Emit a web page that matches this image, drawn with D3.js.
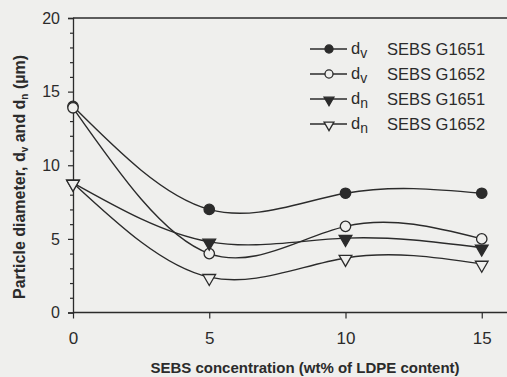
<!DOCTYPE html>
<html>
<head>
<meta charset="utf-8">
<script src="https://cdn.jsdelivr.net/npm/d3@7"></script>
<style>
  html, body { margin: 0; padding: 0; background: #efefed; }
  svg { display: block; font-family: "Liberation Sans", Arial, sans-serif; }
</style>
</head>
<body>
<div id="chart"></div>
<script>
// ── Data ────────────────────────────────────────────────────────────────
const concentrations = [0, 5, 10, 15];
const dvG1651 = [14.0, 7.0, 8.1, 8.1];
const dvG1652 = [13.9, 4.0, 5.85, 5.0];
const dnG1651 = [8.8, 4.8, 5.05, 4.4];
const dnG1652 = [8.8, 2.4, 3.7, 3.3];

const seriesNames = ["G1651", "G1652", "G1651", "G1652"];
const seriesSubs = ["v", "v", "n", "n"];
const seriesValues = [dvG1651, dvG1652, dnG1651, dnG1652];
const seriesSymbols = ["circle", "circle", "triangle", "triangle"];
const seriesFilled = [true, false, true, false];

const xTicks = [0, 5, 10, 15];
const yTicks = [0, 5, 10, 15, 20];
const yMinorTicks = d3.range(0, 21, 1);

const W = 507, H = 377;
const INK = "#2b2b2b";
const BG = "#efefed";
const FONT = "Liberation Sans, Arial, sans-serif";

const svg = d3.select("#chart").append("svg").attr("width", W).attr("height", H);

const x = d3.scaleLinear().domain([0, 16]).range([73, 509]);
const y = d3.scaleLinear().domain([0, 20]).range([312.5, 18]);

// ── Frame / axes ─────────────────────────────────────────────────────────
svg.append("line")
  .attr("x1", x(0)).attr("x2", W).attr("y1", y(20)).attr("y2", y(20))
  .attr("stroke", INK).attr("stroke-width", 1.3);

const yAxis = d3.axisLeft(y).tickValues(yTicks).tickSize(5).tickPadding(8).tickFormat(d3.format("d"));
const gy = svg.append("g").attr("transform", `translate(${x(0)},0)`).call(yAxis);
gy.select(".domain").attr("stroke", INK).attr("stroke-width", 1.3);
gy.selectAll(".tick line").attr("stroke", INK).attr("stroke-width", 1.2);
gy.selectAll(".tick text").attr("fill", INK).attr("font-size", 16).attr("font-family", FONT);

const yMinor = d3.axisLeft(y).tickValues(yMinorTicks.filter((v) => v % 5 !== 0)).tickSize(3).tickFormat("");
const gym = svg.append("g").attr("transform", `translate(${x(0)},0)`).call(yMinor);
gym.select(".domain").remove();
gym.selectAll(".tick line").attr("stroke", INK).attr("stroke-width", 1.2);

const xAxis = d3.axisBottom(x).tickValues(xTicks).tickSize(6).tickPadding(13).tickFormat(d3.format("d"));
const gx = svg.append("g").attr("transform", `translate(0,${y(0)})`).call(xAxis);
gx.select(".domain").attr("d", `M${x(0)},0H${W}`).attr("stroke", INK).attr("stroke-width", 1.3);
gx.selectAll(".tick line").attr("stroke", INK).attr("stroke-width", 1.2);
gx.selectAll(".tick text").attr("fill", INK).attr("font-size", 17).attr("font-family", FONT);

// ── Axis titles ──────────────────────────────────────────────────────────
svg.append("text")
  .attr("x", 305).attr("y", 373)
  .attr("text-anchor", "middle")
  .attr("font-size", 15).attr("font-weight", "bold").attr("fill", INK)
  .text("SEBS concentration (wt% of LDPE content)");

const yTitle = svg.append("text")
  .attr("transform", "translate(25,177) rotate(-90)")
  .attr("text-anchor", "middle")
  .attr("font-size", 16).attr("font-weight", "bold").attr("fill", INK);
yTitle.append("tspan").text("Particle diameter, d");
yTitle.append("tspan").attr("font-size", 10).attr("dy", 3).text("v");
yTitle.append("tspan").attr("dy", -3).text(" and d");
yTitle.append("tspan").attr("font-size", 10).attr("dy", 3).text("n");
yTitle.append("tspan").attr("dy", -3).text(" (µm)");

// ── Curves ───────────────────────────────────────────────────────────────
const line = d3.line()
  .x((d, i) => x(concentrations[i]))
  .y((d) => y(d))
  .curve(d3.curveNatural);

const plot = svg.append("g");
plot.selectAll("path.series")
  .data(seriesValues)
  .join("path")
  .attr("class", "series")
  .attr("d", line)
  .attr("fill", "none")
  .attr("stroke", INK)
  .attr("stroke-width", 1.4);

function drawMarker(sel, kind, filled, scale) {
  const sym = kind === "circle"
    ? d3.symbol().type(d3.symbolCircle).size(85 * scale)
    : d3.symbol().type(d3.symbolTriangle).size(70 * scale);
  sel.append("path")
    .attr("d", sym())
    .attr("transform", kind === "circle" ? null : "rotate(180) translate(0,-1)")
    .attr("fill", filled ? INK : BG)
    .attr("stroke", INK)
    .attr("stroke-width", 1.3);
}

seriesValues.forEach((vals, s) => {
  const g = plot.append("g");
  vals.forEach((v, i) => {
    const m = g.append("g").attr("transform", `translate(${x(concentrations[i])},${y(v)})`);
    drawMarker(m, seriesSymbols[s], seriesFilled[s], 1);
  });
});

// ── Legend ───────────────────────────────────────────────────────────────
const legend = svg.append("g");
const rowY = [49, 74, 99, 124];
seriesValues.forEach((vals, s) => {
  const row = legend.append("g").attr("transform", `translate(0,${rowY[s]})`);
  row.append("line").attr("x1", 310).attr("x2", 347).attr("y1", 0).attr("y2", 0)
    .attr("stroke", INK).attr("stroke-width", 1.4);
  const m = row.append("g").attr("transform", "translate(329,0)");
  drawMarker(m, seriesSymbols[s], seriesFilled[s], 0.6);
  const t = row.append("text").attr("x", 351).attr("y", 5).attr("font-size", 16.5).attr("fill", INK);
  t.append("tspan").text("d");
  t.append("tspan").attr("font-size", 14).attr("dy", 4).text(seriesSubs[s]);
  row.append("text").attr("x", 387).attr("y", 6).attr("font-size", 16.5).attr("fill", INK)
    .text("SEBS " + seriesNames[s]);
});
</script>
</body>
</html>
